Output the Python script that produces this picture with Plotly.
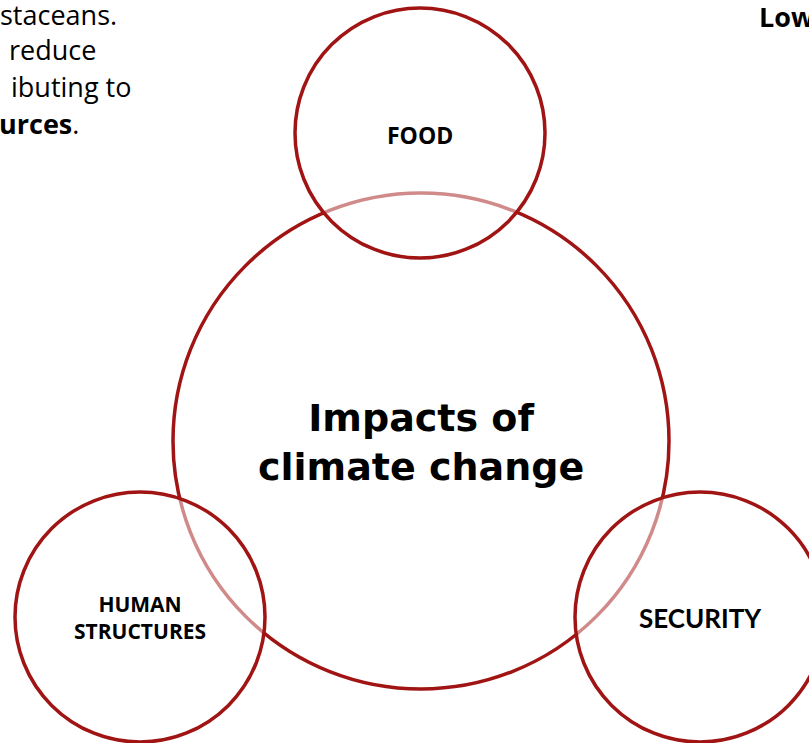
import plotly.graph_objects as go

# Circle data (centre x, centre y, radius) in page pixel units
circle_names = ["Impacts of<br>climate change", "FOOD", "HUMAN<br>STRUCTURES", "SECURITY"]
circle_cx = [421, 420, 140, 700]
circle_cy = [441, 133, 617, 617]
circle_r = [248, 125, 125, 125]

side_text = ["staceans.", "reduce", "ibuting to", "<b>urces</b>."]
side_text_right = [119, 98, 133, 81]
side_text_y = [14, 49, 86, 123]
corner_text = "<b>Low</b>"

W, H = 809, 743
RED = "#A01414"

fig = go.Figure()
fig.add_trace(go.Scatter(x=[0, W], y=[0, H], mode="markers",
                         marker=dict(opacity=0), hoverinfo="skip", showlegend=False))

shapes = []
for i, (cx, cy, r) in enumerate(zip(circle_cx, circle_cy, circle_r)):
    fill = "white" if i == 0 else "rgba(255,255,255,0.5)"
    shapes.append(dict(type="circle", xref="x", yref="y",
                       x0=cx - r, x1=cx + r, y0=cy - r, y1=cy + r,
                       line=dict(color=RED, width=3.5), fillcolor=fill, layer="above"))

annotations = []
fonts = [
    dict(family="DejaVu Sans", size=38, color="black"),
    dict(family="Open Sans", size=23, color="black"),
    dict(family="Open Sans", size=21, color="black"),
    dict(family="Lato", size=26, color="black"),
]
y_shift = [1, 2, 0, 1]
for i, (name, cx, cy) in enumerate(zip(circle_names, circle_cx, circle_cy)):
    annotations.append(dict(x=cx, y=cy + y_shift[i], xref="x", yref="y",
                            text=f"<b>{name}</b>", showarrow=False, font=fonts[i],
                            xanchor="center", yanchor="middle", align="center"))

for t, xr, y in zip(side_text, side_text_right, side_text_y):
    annotations.append(dict(x=xr, y=y, xref="x", yref="y", text=t, showarrow=False,
                            font=dict(family="Open Sans", size=27, color="black"),
                            xanchor="right", yanchor="middle"))
annotations.append(dict(x=757, y=16, xref="x", yref="y", text=corner_text, showarrow=False,
                        font=dict(family="Open Sans", size=27, color="black"),
                        xanchor="left", yanchor="middle"))

fig.update_layout(
    width=W, height=H, margin=dict(l=0, r=0, t=0, b=0),
    paper_bgcolor="white", plot_bgcolor="white",
    xaxis=dict(range=[0, W], visible=False, fixedrange=True),
    yaxis=dict(range=[H, 0], visible=False, fixedrange=True),
    shapes=shapes, annotations=annotations, showlegend=False,
)
fig.write_html("out.html", config={"displayModeBar": False},
               post_script="document.body.style.margin='0';document.body.style.overflow='hidden';")
